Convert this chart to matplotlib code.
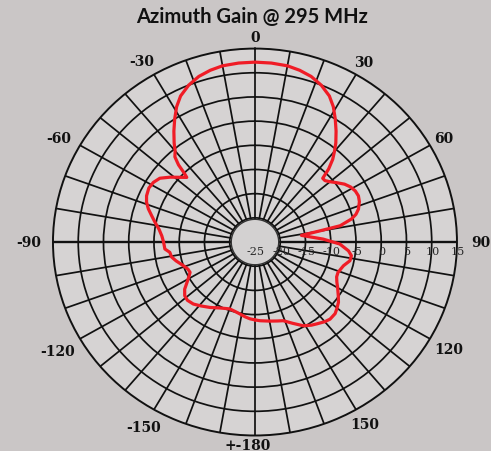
import numpy as np
import matplotlib
matplotlib.use("Agg")
import matplotlib.pyplot as plt

# ---- data ----
angles_deg = [-180, -176.4, -173, -169, -165, -160, -153, -146.6, -141, -136.4, -132,
              -128.6, -125, -122, -119, -116, -113, -109, -104, -100.6, -97.2, -94.6,
              -90, -86, -82, -78.4, -75, -72, -69, -66, -62, -58.5, -55, -51.4, -45.3,
              -44.5, -43.5, -42, -40, -38, -35, -32, -29, -26, -22, -18, -14, -10, -5,
              0, 5, 10, 14, 18, 22, 26, 29, 32, 35, 38, 40, 42, 44, 45.5, 47.5, 50,
              52.8, 56, 59, 62, 65, 68, 71.6, 74, 76, 78.7, 79.8, 81.5, 87.4, 91.4,
              95.6, 98.4, 101.6, 105.6, 108, 111, 114, 117, 120, 124, 127, 130.5, 133,
              137, 140, 144, 147, 151, 156, 161, 165, 170, 176.5, 180]
gain_db = [-8.9, -9.1, -9.4, -9.8, -10.1, -10.3, -9.7, -8.8, -8.0, -7.3, -7.0,
           -7.2, -8.0, -9.1, -10.0, -10.7, -10.6, -10.0, -8.9, -8.2, -8.0, -7.1,
           -6.9, -6.5, -5.8, -4.8, -3.8, -2.8, -2.0, -1.5, -1.2, -1.4, -2.0, -3.5, -6.0,
           -5.0, -3.0, -1.3, -0.4, 1.0, 3.0, 5.0, 7.0, 8.6, 10.0, 11.0, 11.6, 12.0, 12.15,
           12.2, 12.15, 12.0, 11.6, 11.0, 10.0, 8.6, 7.0, 5.0, 3.0, 1.0, -0.5, -2.0, -4.0,
           -6.2, -6.2, -5.6, -4.7, -3.6, -2.9, -2.5, -2.4, -2.7, -3.4, -4.2, -5.3, -7.8,
           -11.9, -15.7, -11.5, -8.2, -6.4, -5.7, -5.8, -6.8, -7.1, -7.4, -7.3, -6.8,
           -6.1, -5.1, -4.3, -3.7, -3.3, -3.2, -3.5, -4.1, -4.5, -5.2, -6.6, -7.8, -8.1,
           -8.4, -8.7, -8.9]
theta_label_texts = ["0", "30", "60", "90", "120", "150", "+-180", "-150", "-120", "-90", "-60", "-30"]
theta_label_angles = [0, 30, 60, 90, 120, 150, -178, -150, -120, -90, -61, -31]
theta_label_radii = [17.4, 17.9, 18.1, 19.75, 19.2, 18.5, 16.9, 19.2, 20.1, 19.75, 19.5, 18.7]
r_ticks = [-25, -20, -15, -10, -5, 0, 5, 10, 15]
title = "Azimuth Gain @ 295 MHz"

fig = plt.figure(figsize=(4.91, 4.52), dpi=100)
fig.patch.set_facecolor("#cac6c6")

ax = fig.add_axes([0.1079, 0.0343, 0.8228, 0.856], projection="polar")
ax.set_aspect("auto")
ax.set_facecolor("#d6d3d3")
ax.set_theta_zero_location("N")
ax.set_theta_direction(-1)
ax.set_rlim(-25, 15)

ax.set_thetagrids(np.arange(0, 360, 10), labels=[""] * 36)
ax.set_rgrids([-20, -15, -10, -5, 0, 5, 10], labels=[""] * 7)
ax.grid(True, color="#111111", lw=1.25)
ax.set_axisbelow(True)
ax.spines["polar"].set_color("#111111")
ax.spines["polar"].set_linewidth(1.4)
ax.tick_params(length=0)

# horizontal axis line emphasised
ax.plot(np.deg2rad([90, 90]), [-20, 15], color="#111111", lw=1.7, zorder=1.5)
ax.plot(np.deg2rad([-90, -90]), [-20, 15], color="#111111", lw=1.7, zorder=1.5)

# central hole
t = np.linspace(0, 2 * np.pi, 361)
ax.fill(t, np.full_like(t, -20.3), facecolor="#d3d1d1", edgecolor="#333333", lw=1.0, zorder=2)

# pattern
th = np.deg2rad(angles_deg)
ax.plot(th, gain_db, color="#f01c26", lw=2.3, zorder=4,
        solid_joinstyle="round", solid_capstyle="round")

# radial labels
for v in r_ticks:
    ax.annotate(str(v), xy=(np.deg2rad(90), v), xytext=(1, -9), textcoords="offset pixels",
                ha="center", va="center", fontsize=8, family="DejaVu Serif",
                color="#262626", zorder=5, annotation_clip=False)

# angle labels
for a, rr, s in zip(theta_label_angles, theta_label_radii, theta_label_texts):
    ax.text(np.deg2rad(a), rr, s, ha="center", va="center", fontsize=10,
            family="DejaVu Serif", fontweight="bold", color="#111111", clip_on=False)

fig.text(0.513, 0.962, title, ha="center", va="center", fontsize=14.5,
         family="Lato", fontweight="bold", color="#111111")

fig.savefig("out.png", dpi=100, facecolor=fig.get_facecolor())
